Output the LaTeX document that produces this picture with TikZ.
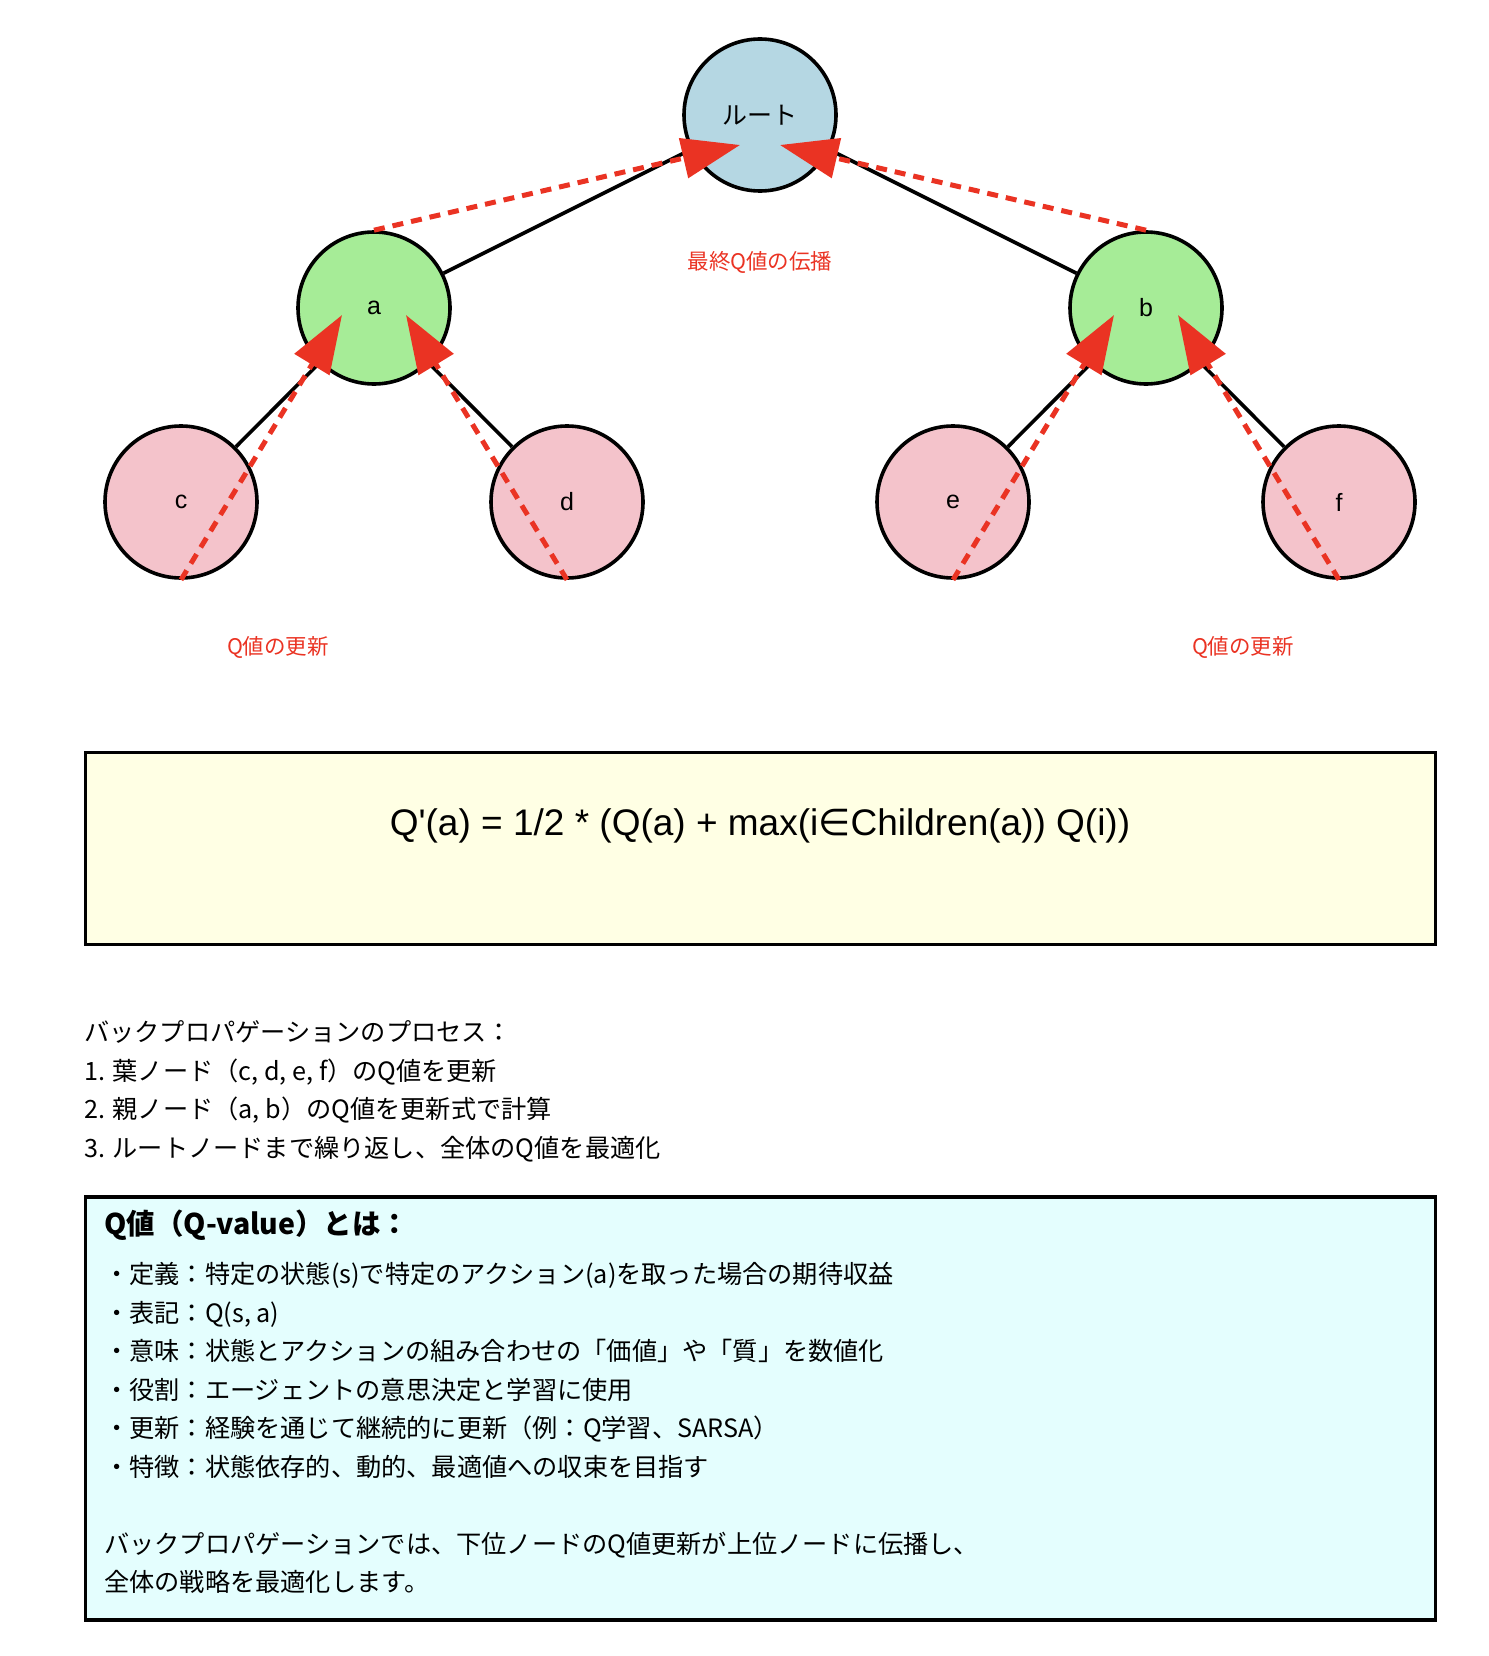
\documentclass[tikz,border=0pt]{standalone}
\usepackage{fontspec}
\setmainfont{Liberation Sans}
\newfontfamily\jp{Noto Sans CJK JP}
\newfontfamily\dejavu{DejaVu Sans}
\newfontfamily\formfont{Liberation Sans}[Ligatures=TeXOff]
\usetikzlibrary{arrows.meta}
\definecolor{rootc}{RGB}{181,215,227}
\definecolor{midc}{RGB}{166,236,151}
\definecolor{leafc}{RGB}{244,195,203}
\definecolor{qred}{RGB}{234,51,35}
\definecolor{boxy}{RGB}{255,255,228}
\definecolor{boxc}{RGB}{228,254,254}
\begin{document}
\begin{tikzpicture}[x=1pt,y=-1pt,
  tnode/.style={circle, draw=black, line width=3.6pt, minimum size=152pt, inner sep=0pt, font=\fontsize{25}{30}\selectfont},
  conn/.style={draw=black, line width=3.6pt},
  qarrow/.style={draw=qred, color=qred, line width=5pt, dash pattern=on 11pt off 8pt, -{Triangle[length=58pt,width=40pt]}},
  qlabel/.style={text=qred, inner sep=0pt, font=\jp\fontsize{21.5}{26}\selectfont},
  txt/.style={anchor=base west, inner sep=0pt, font=\jp\fontsize{25.2}{30}\selectfont},
  panel/.style={draw=black, line width=3.5pt, outer sep=0pt, inner sep=0pt, anchor=north west}
]
\useasboundingbox (0,0) rectangle (1488,1656);

% nodes
\node[tnode, fill=rootc] (root) at (760,115) {\jp ルート};
\node[tnode, fill=midc] (a) at (374,308) {a};
\node[tnode, fill=midc] (b) at (1146,308) {b};
\node[tnode, fill=leafc] (c) at (181,502) {c};
\node[tnode, fill=leafc] (d) at (567,502) {d};
\node[tnode, fill=leafc] (e) at (953,502) {e};
\node[tnode, fill=leafc] (f) at (1339,502) {f};

% tree edges
\draw[conn] (root) -- (a);
\draw[conn] (root) -- (b);
\draw[conn] (a) -- (c);
\draw[conn] (a) -- (d);
\draw[conn] (b) -- (e);
\draw[conn] (b) -- (f);

% arrow tip coordinates
\coordinate (ra) at (740,145);
\coordinate (rb) at (780,145);
\coordinate (ac) at (342,315);
\coordinate (ad) at (406,315);
\coordinate (be) at (1114,315);
\coordinate (bf) at (1178,315);

% propagation arrows
\draw[qarrow] (c.south) -- (ac);
\draw[qarrow] (d.south) -- (ad);
\draw[qarrow] (e.south) -- (be);
\draw[qarrow] (f.south) -- (bf);
\draw[qarrow] (a.north) -- (ra);
\draw[qarrow] (b.north) -- (rb);

% labels
\node[qlabel] (lroot) at (760,262) {最終Q値の伝播};
\node[qlabel] (lleft) at (278,647) {Q値の更新};
\node[qlabel] (lright) at (1243,647) {Q値の更新};

% formula box
\node[panel, fill=boxy, minimum width=1350pt, minimum height=192pt] (fbox) at (85.5,752.5) {};
\node[inner sep=0pt, font=\formfont\fontsize{37}{44}\selectfont] (formula) at (760,826) {Q'(a) = 1/2 * (Q(a) + max(i{\dejavu ∈}Children(a)) Q(i))};

% process text
\node[txt] (p0) at (84,1041) {バックプロパゲーションのプロセス：};
\node[txt] (p1) at (84,1080) {1. 葉ノード（c, d, e, f）のQ値を更新};
\node[txt] (p2) at (84,1118) {2. 親ノード（a, b）のQ値を更新式で計算};
\node[txt] (p3) at (84,1157) {3. ルートノードまで繰り返し、全体のQ値を最適化};

% info box
\node[panel, fill=boxc, minimum width=1350pt, minimum height=423pt] (ibox) at (85.5,1197) {};
\node[txt, font=\jp\bfseries\fontsize{28.5}{34}\selectfont] (t0) at (104,1234) {Q値（Q-value）とは：};
\node[txt] (t1) at (104,1283) {・定義：特定の状態(s)で特定のアクション(a)を取った場合の期待収益};
\node[txt] (t2) at (104,1322) {・表記：Q(s, a)};
\node[txt] (t3) at (104,1360) {・意味：状態とアクションの組み合わせの「価値」や「質」を数値化};
\node[txt] (t4) at (104,1399) {・役割：エージェントの意思決定と学習に使用};
\node[txt] (t5) at (104,1437) {・更新：経験を通じて継続的に更新（例：Q学習、SARSA）};
\node[txt] (t6) at (104,1476) {・特徴：状態依存的、動的、最適値への収束を目指す};
\node[txt] (t7) at (104,1553) {バックプロパゲーションでは、下位ノードのQ値更新が上位ノードに伝播し、};
\node[txt] (t8) at (104,1591) {全体の戦略を最適化します。};
\end{tikzpicture}
\end{document}
